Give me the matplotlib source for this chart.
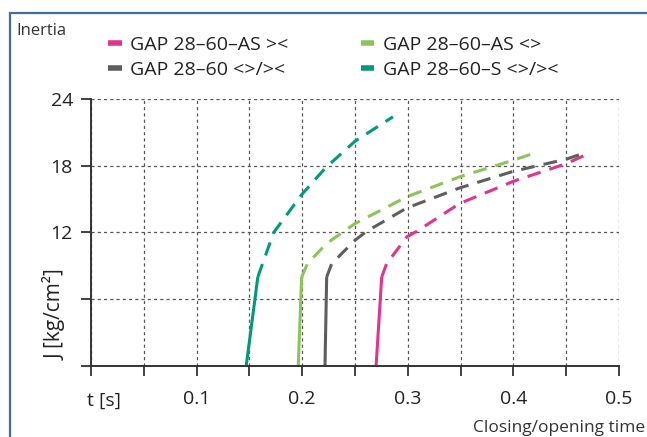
import matplotlib.pyplot as plt
from matplotlib.patches import Rectangle

plt.rcParams['font.family'] = ['Open Sans', 'DejaVu Sans']

# series: solid part (acceleration) then dashed part
teal_solid_t = [0.147, 0.158]
teal_solid_j = [0.0, 8.0]
teal_dash_t = [0.158, 0.173, 0.1995, 0.222, 0.25, 0.286]
teal_dash_j = [8.0, 12.0, 15.4, 17.8, 20.2, 22.4]

green_solid_t = [0.1963, 0.1995]
green_solid_j = [0.0, 8.0]
green_dash_t = [0.1995, 0.205, 0.223, 0.25, 0.299, 0.349, 0.40, 0.422]
green_dash_j = [8.0, 9.2, 11.0, 12.8, 15.2, 17.0, 18.5, 19.2]

gray_solid_t = [0.2216, 0.2232]
gray_solid_j = [0.0, 8.0]
gray_dash_t = [0.2232, 0.228, 0.25, 0.261, 0.299, 0.349, 0.40, 0.4505, 0.469]
gray_dash_j = [8.0, 9.2, 11.3, 12.1, 14.2, 16.0, 17.5, 18.6, 19.2]

pink_solid_t = [0.270, 0.2753]
pink_solid_j = [0.0, 8.0]
pink_dash_t = [0.2753, 0.28, 0.299, 0.3084, 0.349, 0.40, 0.4505, 0.469]
pink_dash_j = [8.0, 9.2, 11.6, 12.1, 14.6, 16.6, 18.2, 19.0]

x_ticks = [0.1, 0.2, 0.3, 0.4, 0.5]
y_ticks = [0, 6, 12, 18, 24]
y_labels = ['', '', '12', '18', '24']

PINK = '#e0358c'
GREEN = '#8cc45a'
GRAY = '#5e5e5e'
TEAL = '#00997b'

fig = plt.figure(figsize=(6.47, 4.37), dpi=100)
ax = fig.add_axes([0.1406, 0.1625, 0.8161, 0.611])

series = [
    (pink_solid_t, pink_solid_j, pink_dash_t, pink_dash_j, PINK, 'GAP 28–60–AS ><'),
    (gray_solid_t, gray_solid_j, gray_dash_t, gray_dash_j, GRAY, 'GAP 28–60 <>/><'),
    (green_solid_t, green_solid_j, green_dash_t, green_dash_j, GREEN, 'GAP 28–60–AS <>'),
    (teal_solid_t, teal_solid_j, teal_dash_t, teal_dash_j, TEAL, 'GAP 28–60–S <>/><'),
]
handles = []
for st, sj, dt, dj, c, lab in series:
    h, = ax.plot(st, sj, color=c, lw=2.2, solid_capstyle='butt', label=lab)
    ax.plot(dt, dj, color=c, lw=2.2, dashes=(4.5, 3.0), dash_capstyle='butt')
    handles.append(h)

ax.set_xlim(0, 0.5)
ax.set_ylim(0, 24)
ax.set_xticks([i * 0.05 for i in range(11)], minor=True)
ax.set_xticks(x_ticks)
ax.set_xticklabels(['0.1', '0.2', '0.3', '0.4', '0.5'])
ax.set_yticks(y_ticks)
ax.set_yticklabels(y_labels)
ax.tick_params(axis='both', which='both', direction='out', length=7, width=1.3,
               color='#333333', labelsize=14, labelcolor='#222222')
ax.tick_params(axis='x', pad=10)
ax.tick_params(axis='y', pad=6)
ax.grid(True, which='both', color='#555555', lw=0.9, linestyle=(0, (2.5, 2.5)))
ax.set_axisbelow(True)
for s in ['top', 'right']:
    ax.spines[s].set_visible(False)
for s in ['left', 'bottom']:
    ax.spines[s].set_linewidth(1.4)
    ax.spines[s].set_color('#333333')

ax.text(-0.068, 4.6, 'J [kg/cm²]', rotation=90, ha='center', va='center',
        fontsize=15, color='#222222', transform=ax.get_yaxis_transform())
ax.text(0.012, -3.1, 't [s]', ha='center', va='center', fontsize=14, color='#222222')
fig.text(0.997, 0.02, 'Closing/opening time', ha='right', va='center',
         fontsize=12.5, color='#333333')
fig.text(0.025, 0.928, 'Inertia', ha='left', va='center', fontsize=12, color='#333333')

leg = fig.legend(handles=[handles[0], handles[1], handles[2], handles[3]],
                 loc='upper left', bbox_to_anchor=(108 / 647, 1 - 36 / 437), ncol=2,
                 frameon=False, fontsize=14, handlelength=0.7, handletextpad=0.45,
                 columnspacing=3.7, labelspacing=0.35, borderpad=0, borderaxespad=0)
for t in leg.get_texts():
    t.set_color('#222222')
for h in leg.legend_handles:
    h.set_linewidth(4)

fig.patches.append(Rectangle((10 / 647, -0.1), 1.2, 1 - 13 / 437 + 0.1, transform=fig.transFigure,
                             fill=False, edgecolor='#3f6e9c', lw=1.6))

fig.savefig('out.png', dpi=100)
